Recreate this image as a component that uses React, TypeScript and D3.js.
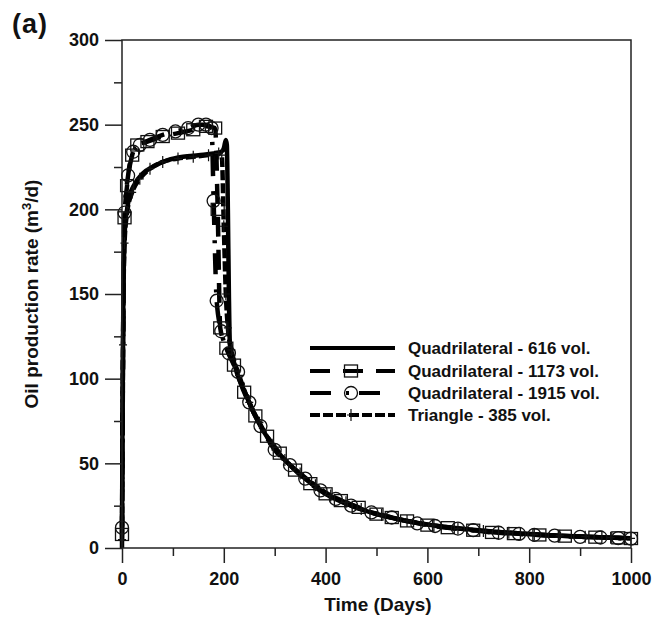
import React, { useRef, useEffect } from "react";
import * as d3 from "d3";

// Quadrilateral - 616 vol. (solid)
const quad616Days = [0, 1, 3, 6, 10, 15, 25, 40, 60, 90, 120, 150, 180, 195, 200, 204, 206, 208, 210, 212, 218, 225, 240, 260, 280, 300, 330, 360, 400, 450, 500, 550, 600, 650, 700, 750, 800, 850, 900, 950, 1000];
const quad616Rate = [0, 80, 160, 190, 200, 208, 215, 221, 225, 229, 231, 232, 233, 234, 236, 241, 238, 200, 150, 120, 112, 104, 93, 79, 68, 59, 49, 41, 32, 25, 20, 16.5, 13.8, 12, 10.5, 9.3, 8.2, 7.4, 6.8, 6.2, 5.8];

// Quadrilateral - 1173 vol. (dashed, squares)
const quad1173Days = [0, 5, 10, 20, 30, 50, 80, 110, 140, 165, 183, 188, 193, 205, 220, 240, 262, 285, 310, 340, 370, 400, 430, 465, 500, 530, 560, 600, 640, 690, 727, 770, 820, 870, 930, 975, 1000];
const quad1173Rate = [8, 195, 214, 232, 238, 240, 243, 245, 247, 249, 248, 200, 130, 118, 108, 92, 78, 66, 56, 46, 38, 32, 28, 24, 20, 18, 16, 13.5, 12, 10.5, 9.2, 8.5, 7.7, 7, 6.4, 6, 5.6];

// Quadrilateral - 1915 vol. (dash-dot, circles)
const quad1915Days = [0, 5, 12, 22, 35, 55, 80, 105, 130, 150, 165, 176, 180, 186, 195, 210, 228, 250, 272, 300, 330, 360, 390, 420, 450, 490, 530, 580, 615, 660, 690, 740, 780, 810, 850, 900, 940, 975, 1000];
const quad1915Rate = [12, 198, 220, 234, 238, 241, 244, 246, 248, 250, 250, 248, 205, 146, 128, 115, 104, 86, 72, 58, 49, 41, 34, 29, 25, 21, 18, 14.5, 13, 11.5, 10.5, 9, 8.3, 7.8, 7.3, 6.6, 6.2, 5.8, 5.5];

// Triangle - 385 vol. (short dashes, plus)
const tri385Days = [0, 2, 5, 10, 20, 35, 55, 80, 110, 140, 170, 190, 196, 200, 204, 208, 215, 230, 250, 270, 295, 320, 350, 380, 410, 440, 470, 510, 560, 610, 660, 710, 760, 810, 860, 910, 960, 1000];
const tri385Rate = [5, 120, 180, 198, 210, 218, 224, 228, 230, 231, 232, 233, 232, 190, 150, 130, 117, 102, 86, 74, 61, 52, 44, 37, 31, 27, 23, 19.5, 16, 13.5, 11.5, 10, 9, 8, 7.3, 6.7, 6.1, 5.7];

const legendLabels = ["Quadrilateral - 616 vol.", "Quadrilateral - 1173 vol.", "Quadrilateral - 1915 vol.", "Triangle - 385 vol."];
const yTicks = [0, 50, 100, 150, 200, 250, 300];
const xTicks = [0, 200, 400, 600, 800, 1000];

const FONT = "'Liberation Sans', Arial, Helvetica, sans-serif";

function drawMarker(g, kind, cx, cy) {
  if (kind === "square") {
    g.append("rect")
      .attr("x", cx - 6.5).attr("y", cy - 6)
      .attr("width", 13).attr("height", 12)
      .attr("fill", "none").attr("stroke", "#111").attr("stroke-width", 1.3);
  } else if (kind === "circle") {
    g.append("circle")
      .attr("cx", cx).attr("cy", cy).attr("r", 6.5)
      .attr("fill", "none").attr("stroke", "#111").attr("stroke-width", 1.3);
  } else if (kind === "plus") {
    g.append("path")
      .attr("d", `M${cx - 4},${cy}H${cx + 4}M${cx},${cy - 6}V${cy + 6}`)
      .attr("stroke", "#111").attr("stroke-width", 1.2).attr("fill", "none");
  }
}

export default function App() {
  const svgRef = useRef();

  useEffect(() => {
    const svg = d3.select(svgRef.current);
    svg.selectAll("*").remove();

    const x = d3.scaleLinear().domain([0, 1000]).range([122, 631]);
    const y = d3.scaleLinear().domain([0, 300]).range([548, 40]);

    const series = [
      { days: quad616Days, rate: quad616Rate, dash: null, marker: null },
      { days: tri385Days, rate: tri385Rate, dash: "10,3", marker: "plus" },
      { days: quad1173Days, rate: quad1173Rate, dash: "20,13", marker: "square" },
      { days: quad1915Days, rate: quad1915Rate, dash: "21,15,3,10", marker: "circle" },
    ];

    const line = d3.line().x((d) => x(d[0])).y((d) => y(d[1])).curve(d3.curveMonotoneX);

    const plot = svg.append("g");
    series.forEach((s) => {
      const pts = s.days.map((d, i) => [d, s.rate[i]]);
      plot.append("path")
        .datum(pts)
        .attr("d", line)
        .attr("fill", "none")
        .attr("stroke", "#000")
        .attr("stroke-width", 4.5)
        .attr("stroke-dasharray", s.dash)
        .attr("stroke-linejoin", "round");
    });
    series.forEach((s) => {
      if (!s.marker) return;
      s.days.forEach((d, i) => drawMarker(plot, s.marker, x(d), y(s.rate[i])));
    });

    // frame
    svg.append("rect")
      .attr("x", 122).attr("y", 40).attr("width", 509).attr("height", 508)
      .attr("fill", "none").attr("stroke", "#222").attr("stroke-width", 1.5);

    // y axis
    const yMinor = svg.append("g").attr("transform", "translate(122,0)")
      .call(d3.axisLeft(y).tickValues(d3.range(25, 300, 50)).tickSize(8).tickFormat(() => ""));
    const yMajor = svg.append("g").attr("transform", "translate(122,0)")
      .call(d3.axisLeft(y).tickValues(yTicks).tickSize(17).tickPadding(6).tickFormat(d3.format("d")));
    // x axis
    const xMinor = svg.append("g").attr("transform", "translate(0,548)")
      .call(d3.axisBottom(x).tickValues(d3.range(100, 1000, 200)).tickSize(8).tickFormat(() => ""));
    const xMajor = svg.append("g").attr("transform", "translate(0,548)")
      .call(d3.axisBottom(x).tickValues(xTicks).tickSize(15).tickPadding(9).tickFormat(d3.format("d")));

    [yMinor, yMajor, xMinor, xMajor].forEach((a) => {
      a.select(".domain").remove();
      a.selectAll("line").attr("stroke", "#222").attr("stroke-width", 1.5);
      a.selectAll("text")
        .attr("font-family", FONT).attr("font-size", 18).attr("font-weight", "bold").attr("fill", "#111");
    });

    // labels
    svg.append("text")
      .attr("x", 378).attr("y", 611).attr("text-anchor", "middle")
      .attr("font-family", FONT).attr("font-size", 19).attr("font-weight", "bold").attr("fill", "#111")
      .text("Time (Days)");

    const yl = svg.append("text")
      .attr("transform", "translate(38,294) rotate(-90)")
      .attr("text-anchor", "middle")
      .attr("font-family", FONT).attr("font-size", 19).attr("font-weight", "bold").attr("fill", "#111");
    yl.append("tspan").text("Oil production rate (m");
    yl.append("tspan").attr("font-size", 13).attr("dy", -7).text("3");
    yl.append("tspan").attr("dy", 7).text("/d)");

    svg.append("text")
      .attr("x", 12).attr("y", 33)
      .attr("font-family", FONT).attr("font-size", 27).attr("font-weight", "bold")
      .attr("letter-spacing", 1).attr("fill", "#111")
      .text("(a)");

    // legend
    const legend = svg.append("g");
    const legendStyles = [
      { dash: null, marker: null },
      { dash: "20,13", marker: "square" },
      { dash: "21,15,3,10", marker: "circle" },
      { dash: "10,3", marker: "plus" },
    ];
    const rowY = [348, 371, 393, 415];
    legendLabels.forEach((label, i) => {
      const ly = rowY[i];
      legend.append("line")
        .attr("x1", 310).attr("x2", 395).attr("y1", ly).attr("y2", ly)
        .attr("stroke", "#000").attr("stroke-width", 4)
        .attr("stroke-dasharray", legendStyles[i].dash);
      if (legendStyles[i].marker) drawMarker(legend, legendStyles[i].marker, 351, ly);
      legend.append("text")
        .attr("x", 408).attr("y", ly + 6)
        .attr("font-family", FONT).attr("font-size", 17).attr("font-weight", "bold").attr("fill", "#111")
        .text(label);
    });
  }, []);

  return (
    <svg
      ref={svgRef}
      width={667}
      height={618}
      style={{ position: "absolute", left: 0, top: 0, background: "#fff" }}
    />
  );
}
